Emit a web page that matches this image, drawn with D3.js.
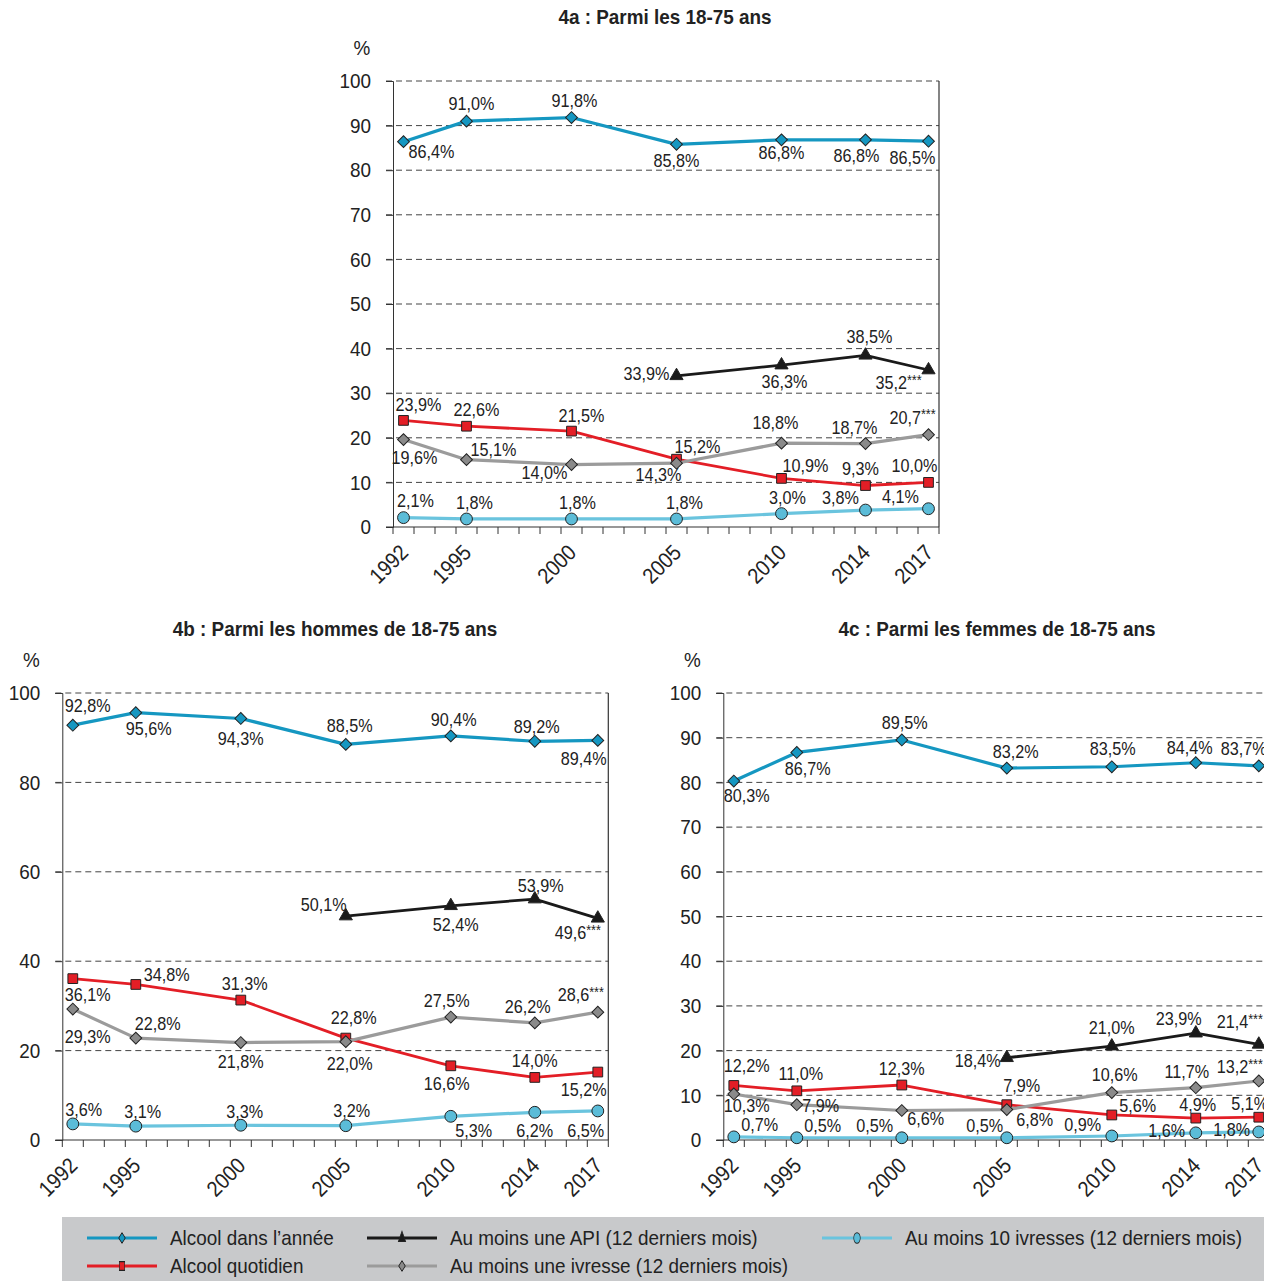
<!DOCTYPE html>
<html>
<head>
<meta charset="utf-8">
<script src="https://cdn.jsdelivr.net/npm/d3@7/dist/d3.min.js"></script>
<style>
  body { margin: 0; background: #fff; }
  svg { display: block; font-family: "Liberation Sans", Arial, Helvetica, sans-serif; }
</style>
</head>
<body>
<div id="chart"></div>
<script>
// 1: DATA
const years = d3.range(1992, 2018);              // one band per year on the x axis
const surveyYears = [1992, 1995, 2000, 2005, 2010, 2014, 2017];
const apiYears = [2005, 2010, 2014, 2017];

// 4a : 18-75 ans
const anneeAll = [86.4, 91.0, 91.8, 85.8, 86.8, 86.8, 86.5];
const quotidienAll = [23.9, 22.6, 21.5, 15.2, 10.9, 9.3, 10.0];
const apiAll = [33.9, 36.3, 38.5, 35.2];
const ivresseAll = [19.6, 15.1, 14.0, 14.3, 18.8, 18.7, 20.7];
const ivresses10All = [2.1, 1.8, 1.8, 1.8, 3.0, 3.8, 4.1];

// 4b : hommes
const anneeHommes = [92.8, 95.6, 94.3, 88.5, 90.4, 89.2, 89.4];
const quotidienHommes = [36.1, 34.8, 31.3, 22.8, 16.6, 14.0, 15.2];
const apiHommes = [50.1, 52.4, 53.9, 49.6];
const ivresseHommes = [29.3, 22.8, 21.8, 22.0, 27.5, 26.2, 28.6];
const ivresses10Hommes = [3.6, 3.1, 3.3, 3.2, 5.3, 6.2, 6.5];

// 4c : femmes
const anneeFemmes = [80.3, 86.7, 89.5, 83.2, 83.5, 84.4, 83.7];
const quotidienFemmes = [12.2, 11.0, 12.3, 7.9, 5.6, 4.9, 5.1];
const apiFemmes = [18.4, 21.0, 23.9, 21.4];
const ivresseFemmes = [10.3, 7.9, 6.6, 6.8, 10.6, 11.7, 13.2];
const ivresses10Femmes = [0.7, 0.5, 0.5, 0.5, 0.9, 1.6, 1.8];

const ticks10 = [0, 10, 20, 30, 40, 50, 60, 70, 80, 90, 100];
const ticks20 = [0, 20, 40, 60, 80, 100];

// series styles (the last value of these gets "***" instead of "%")
const starred = ["api", "ivresse"];
const series = {
    annee:      { name: "Alcool dans l’année", stroke: "#1597c1", fill: "#1597c1", width: 3.2, symbol: "diamond" },
    quotidien:  { name: "Alcool quotidien", stroke: "#e31e26", fill: "#e31e26", width: 2.8, symbol: "square" },
    api:        { name: "Au moins une API (12 derniers mois)", stroke: "#1a1a1a", fill: "#1a1a1a", width: 2.8, symbol: "triangle" },
    ivresse:    { name: "Au moins une ivresse (12 derniers mois)", stroke: "#9b9b9b", fill: "#8a8a8a", width: 3.2, symbol: "diamond" },
    ivresses10: { name: "Au moins 10 ivresses (12 derniers mois)", stroke: "#6ac4de", fill: "#5bbcd8", width: 3.2, symbol: "circle" }
};
const drawOrder = ["annee", "quotidien", "ivresse", "api", "ivresses10"];

// label placement relative to each point [dx, dy]
const offsets4a = {
    annee: [[28, 10], [5, -17], [3, -17], [0, 17], [0, 13], [-9, 16], [-16, 17]],
    api: [[-30, -2], [3, 17], [4, -18], [-30, 13]],
    quotidien: [[15, -15], [10, -16], [10, -15], [21, -12], [24, -12], [-5, -17], [-14, -16]],
    ivresse: [[11, 18], [27, -10], [-27, 8], [-18, 12], [-6, -20], [-11, -16], [-16, -17]],
    ivresses10: [[12, -17], [8, -16], [6, -16], [8, -16], [6, -16], [-25, -12], [-28, -12]]
};
const offsets4b = {
    annee: [[15, -19], [13, 16], [0, 21], [4, -18], [3, -16], [2, -14], [-14, 19]],
    api: [[-22, -11], [5, 19], [6, -13], [-20, 15]],
    quotidien: [[15, 16], [31, -9], [4, -16], [8, -20], [-4, 18], [0, -16], [-14, 18]],
    ivresse: [[15, 28], [22, -14], [0, 19], [4, 22], [-4, -16], [-7, -16], [-17, -17]],
    ivresses10: [[11, -14], [7, -14], [4, -13], [6, -15], [23, 15], [0, 19], [-12, 20]]
};
const offsets4c = {
    annee: [[13, 15], [11, 17], [3, -17], [9, -16], [1, -18], [-6, -15], [-15, -17]],
    api: [[-29, 3], [0, -18], [-17, -14], [-19, -22]],
    quotidien: [[13, -19], [4, -17], [0, -16], [15, -19], [26, -9], [2, -13], [-9, -13]],
    ivresse: [[13, 12], [24, 1], [24, 9], [28, 10], [3, -18], [-9, -16], [-19, -14]],
    ivresses10: [[26, -12], [26, -12], [-27, -12], [-22, -12], [-29, -11], [-29, -2], [-27, -2]]
};

const panels = [
    { title: "4a : Parmi les 18-75 ans", titleX: 665, titleY: 24, left: 393, top: 81, bottom: 527, ticks: ticks10,
      data: { annee: anneeAll, quotidien: quotidienAll, api: apiAll, ivresse: ivresseAll, ivresses10: ivresses10All }, offsets: offsets4a },
    { title: "4b : Parmi les hommes de 18-75 ans", titleX: 335, titleY: 636, left: 62.3, top: 693, bottom: 1140, ticks: ticks20,
      data: { annee: anneeHommes, quotidien: quotidienHommes, api: apiHommes, ivresse: ivresseHommes, ivresses10: ivresses10Hommes }, offsets: offsets4b },
    { title: "4c : Parmi les femmes de 18-75 ans", titleX: 997, titleY: 636, left: 723.3, top: 693, bottom: 1140, ticks: ticks10,
      data: { annee: anneeFemmes, quotidien: quotidienFemmes, api: apiFemmes, ivresse: ivresseFemmes, ivresses10: ivresses10Femmes }, offsets: offsets4c }
];

// 2: SVG
const W = 1264, H = 1281;
const SX = 0.9;   // horizontal squeeze to mimic the condensed typeface
const svg = d3.select("#chart").append("svg").attr("width", W).attr("height", H);

const symbolPath = {
    diamond: d3.symbol().type(d3.symbolSquare).size(70)(),
    square: d3.symbol().type(d3.symbolSquare).size(95)(),
    triangle: d3.symbol().type(d3.symbolTriangle).size(75)(),
    circle: d3.symbol().type(d3.symbolCircle).size(110)()
};
const fmt = v => d3.format(".1f")(v).replace(".", ",");

function text(g, x, y, str, size, anchor, extra) {
    return g.append("text")
        .attr("transform", `translate(${x},${y})${extra || ""} scale(${SX},1)`)
        .attr("text-anchor", anchor || "start")
        .attr("font-size", size).attr("fill", "#222")
        .text(str);
}

function drawMarker(g, key, x, y) {
    const s = series[key];
    g.append("path")
        .attr("d", symbolPath[s.symbol])
        .attr("transform", `translate(${x},${y})` + (s.symbol === "diamond" ? " rotate(45)" : ""))
        .attr("fill", s.fill)
        .attr("stroke", "#222")
        .attr("stroke-width", 1);
}

// 3: PANELS
panels.forEach(p => {
    const g = svg.append("g");
    const x = d3.scaleBand().domain(years).range([p.left, p.left + 21 * years.length]);
    const y = d3.scaleLinear().domain([0, 100]).range([p.bottom, p.top]);
    const cx = yr => x(yr) + x.bandwidth() / 2;
    const right = p.left + 21 * years.length;

    // gridlines
    g.selectAll(".grid").data(p.ticks.filter(t => t > 0)).join("line")
        .attr("x1", p.left - 7).attr("x2", right)
        .attr("y1", d => y(d)).attr("y2", d => y(d))
        .attr("stroke", "#444").attr("stroke-width", 1).attr("stroke-dasharray", "6,4");

    // y axis
    const yAxis = g.append("g")
        .attr("transform", `translate(${p.left},0)`)
        .call(d3.axisLeft(y).tickValues(p.ticks).tickSize(7).tickPadding(15));
    yAxis.select(".domain").attr("stroke", "#333");
    yAxis.selectAll(".tick line").attr("stroke", "#333");
    yAxis.selectAll(".tick text")
        .attr("font-size", 21).attr("fill", "#222").attr("font-family", null)
        .attr("transform", function () { return `translate(${this.getAttribute("x")},0) scale(${SX},1)`; })
        .attr("x", 0);

    // right border
    g.append("line").attr("x1", right).attr("x2", right).attr("y1", p.top).attr("y2", p.bottom)
        .attr("stroke", "#333").attr("stroke-width", 1.2);

    // x axis: ticks between years
    g.append("line").attr("x1", p.left - 7).attr("x2", right).attr("y1", p.bottom).attr("y2", p.bottom)
        .attr("stroke", "#333").attr("stroke-width", 1.2);
    g.selectAll(".xt").data(years.concat([2018])).join("line")
        .attr("x1", d => d === 2018 ? right : x(d)).attr("x2", d => d === 2018 ? right : x(d))
        .attr("y1", p.bottom).attr("y2", p.bottom + 7)
        .attr("stroke", "#333").attr("stroke-width", 1);
    surveyYears.forEach(yr => text(g, cx(yr) + 6, p.bottom + 27, yr, 22, "end", " rotate(-45)"));

    // "%" and title
    text(g, p.left - 31, p.top - 26, "%", 21, "middle");
    text(g, p.titleX, p.titleY, p.title, 21, "middle").attr("font-weight", "bold");

    // lines
    const line = d3.line().x(d => cx(d.year)).y(d => y(d.v));
    drawOrder.forEach(key => {
        const yrs = key === "api" ? apiYears : surveyYears;
        const pts = p.data[key].map((v, i) => ({ year: yrs[i], v }));
        g.append("path").datum(pts)
            .attr("fill", "none").attr("stroke", series[key].stroke)
            .attr("stroke-width", series[key].width).attr("stroke-linejoin", "round")
            .attr("d", line);
        pts.forEach(d => drawMarker(g, key, cx(d.year), y(d.v)));
    });

    // labels
    drawOrder.forEach(key => {
        const yrs = key === "api" ? apiYears : surveyYears;
        p.data[key].forEach((v, i) => {
            const [dx, dy] = p.offsets[key][i];
            const t = text(g, cx(yrs[i]) + dx, y(v) + dy + 6, "", 18, "middle");
            const last = i === p.data[key].length - 1;
            if (last && starred.includes(key)) {
                t.append("tspan").text(fmt(v));
                t.append("tspan").attr("font-size", 14).attr("baseline-shift", "30%").text("***");
            } else {
                t.text(fmt(v) + "%");
            }
        });
    });
});

// 4: LEGEND
const legend = svg.append("g");
legend.append("rect").attr("x", 62).attr("y", 1217).attr("width", W - 62).attr("height", H - 1217).attr("fill", "#c8c9cb");
const legendItems = [
    { key: "annee", x: 87, y: 1238 },
    { key: "quotidien", x: 87, y: 1266 },
    { key: "api", x: 367, y: 1238 },
    { key: "ivresse", x: 367, y: 1266 },
    { key: "ivresses10", x: 822, y: 1238 }
];
legendItems.forEach(it => {
    const s = series[it.key];
    legend.append("line").attr("x1", it.x).attr("x2", it.x + 70).attr("y1", it.y).attr("y2", it.y)
        .attr("stroke", s.stroke).attr("stroke-width", 3);
    legend.append("path")
        .attr("d", symbolPath[s.symbol])
        .attr("transform", `translate(${it.x + 35},${it.y}) scale(0.55,0.9)` + (s.symbol === "diamond" ? " rotate(45)" : ""))
        .attr("fill", s.fill).attr("stroke", "#222").attr("stroke-width", 1.2);
    text(legend, it.x + 83, it.y + 7, s.name, 21);
});
</script>
</body>
</html>
